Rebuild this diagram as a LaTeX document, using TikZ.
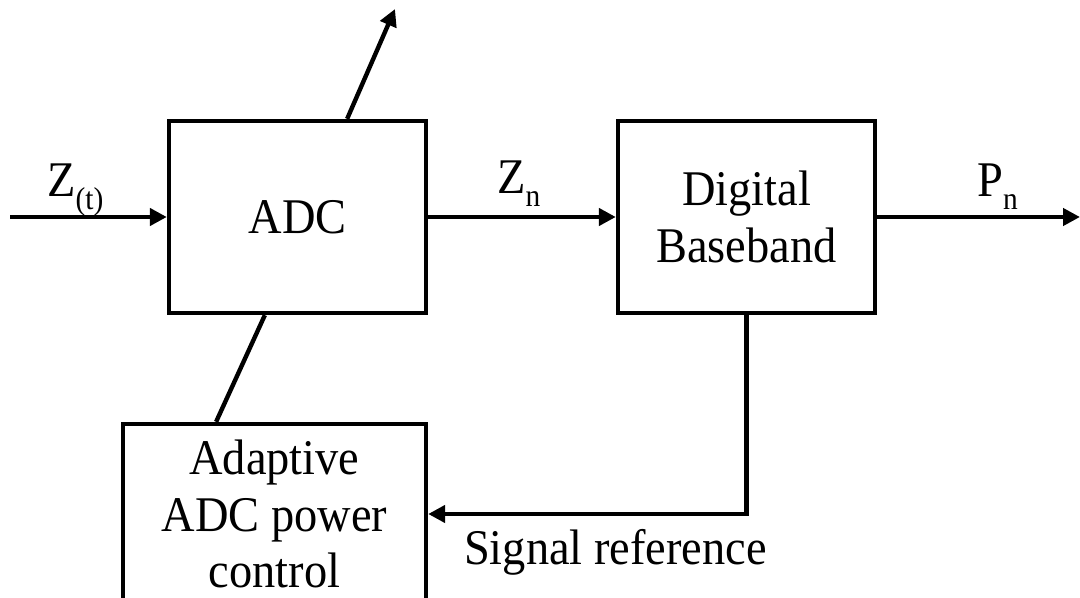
\documentclass[tikz,border=0pt]{standalone}
\usepackage{fontspec}
\setmainfont[FakeStretch=0.93]{Liberation Serif}
\usetikzlibrary{arrows.meta,calc}
\newcommand{\lowsub}[1]{\raisebox{-7pt}{\fontsize{18}{18}\selectfont #1}}
\begin{document}
\begin{tikzpicture}[x=0.02cm,y=-0.02cm,line width=2.5pt,
  every node/.style={font=\fontsize{28.4}{32.4}\selectfont},
  blk/.style={draw,rectangle,align=center,inner sep=0pt},
  lbl/.style={anchor=base west,inner sep=0pt},
  arr/.style={-{Triangle[length=0.34cm,width=0.34cm]}}]
\clip (0,0) rectangle (1080,598);
% blocks
\node[blk,minimum width=5.14cm,minimum height=3.84cm] (adc) at (297.5,217) {ADC};
\node[blk,minimum width=5.14cm,minimum height=3.84cm] (db) at (746.5,217) {Digital\\Baseband};
\node[blk,minimum width=6.06cm,minimum height=3.6cm] (adp) at (274.5,514) {Adaptive\\ADC power\\control};
% free ends
\coordinate (in) at (10,217);
\coordinate (out) at (1080,217);
\coordinate (top) at (395,9);
% signals
\draw[arr] (in) -- (adc.west);
\draw[arr] (adc.east) -- (db.west);
\draw[arr] (db.east) -- (out);
\draw[arr] ($(adc.north west)!0.69!(adc.north east)$) -- (top);
\draw ($(adc.south west)!0.375!(adc.south east)$) -- ($(adp.north west)!0.31!(adp.north east)$);
\draw[arr] (db.south) |- (adp.east);
% labels
\node[lbl] (zt) at (45,197) {Z\lowsub{(t)}};
\node[lbl] (zn) at (495,194) {Z\lowsub{n}};
\node[lbl] (pn) at (975,197) {P\lowsub{n}};
\node[lbl] (sigref) at (462,564) {Signal reference};
\end{tikzpicture}
\end{document}
